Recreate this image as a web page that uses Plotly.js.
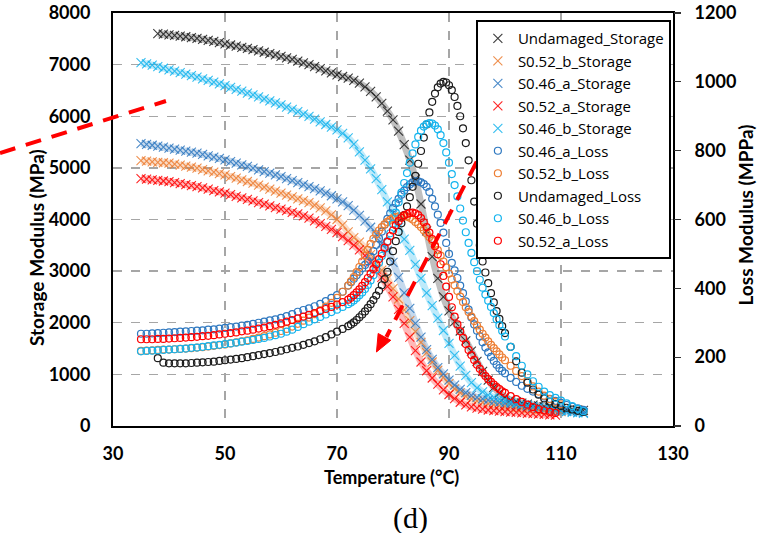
<!DOCTYPE html>
<html>
<head>
<meta charset="utf-8">
<script src="https://cdn.plot.ly/plotly-3.0.1.min.js"></script>
<style>
  html, body { margin: 0; padding: 0; background: #ffffff; }
  #chart { width: 758px; height: 533px; }
</style>
</head>
<body>
<div id="chart"></div>
<script>
// Temperature grid (°C) shared by the storage-modulus series
const tempStorage = [35,36,37,38,39,40,41,42,43,44,45,46,47,48,49,50,51,52,53,54,55,56,57,58,59,60,
  61,62,63,64,65,66,67,68,69,70,71,72,73,74,75,76,77,78,79,80,81,82,83,84,85,86,87,88,89,90,
  91,92,93,94,95,96,97,98,99,100,101,102,103,104,105,106,107,108,109,110,111,112,113,114];

// Temperature grid (°C) shared by the loss-modulus series (finer around the peaks)
const tempLoss = [35,36,37,38,39,40,41,42,43,44,45,46,47,48,49,50,51,52,53,54,55,56,57,58,59,60,
  61,62,63,64,65,66,67,68,69,70,71,
  72,72.5,73,73.5,74,74.5,75,75.5,76,76.5,77,77.5,78,78.5,79,79.5,80,80.5,81,81.5,82,82.5,83,83.5,
  84,84.5,85,85.5,86,86.5,87,87.5,88,88.5,89,89.5,90,90.5,91,91.5,92,92.5,93,93.5,94,94.5,95,95.5,
  96,96.5,97,97.5,98,98.5,99,99.5,100,
  101,102,103,104,105,106,107,108,109,110,111,112,113,114];

// Storage modulus (MPa)
const undamagedStorage = [null,null,null,7600,7590,7575,7565,7550,7540,7525,7510,7490,7470,7450,7425,7400,
  7380,7358,7336,7313,7290,7265,7240,7213,7187,7160,7130,7100,7068,7035,7000,6962,6922,6880,6840,6800,
  6770,6740,6695,6640,6570,6480,6375,6250,6100,5930,5710,5450,5150,4780,4300,3780,3280,2860,2500,2230,
  2020,1840,1650,1450,1250,1060,890,750,640,560,505,470,445,425,405,388,373,360,348,337,327,318,310,302];
const s052bStorage = [5140,5130,5118,5107,5099,5090,5072,5053,5034,5014,4994,4968,4942,4916,4890,4864,
  4832,4800,4768,4736,4703,4665,4626,4588,4549,4510,4474,4437,4400,4364,4328,4280,4225,4165,4090,4000,
  3890,3760,3650,3560,3450,3320,3180,3020,2850,2660,2460,2250,2040,1830,1620,1420,1240,1080,940,820,
  720,640,575,525,485,455,430,410,393,378,365,353,342,332,322,313,304,296,288,280,null,null,null,null];
const s046aStorage = [5470,5455,5438,5420,5400,5381,5362,5343,5324,5305,5285,5260,5234,5208,5182,5155,
  5123,5091,5059,5027,4994,4962,4929,4897,4864,4832,4793,4754,4716,4677,4638,4598,4556,4510,4460,4400,
  4340,4270,4180,4080,3970,3850,3710,3540,3400,3170,2880,2580,2280,1990,1720,1480,1290,1130,1010,890,
  790,710,645,595,555,525,500,478,458,440,424,408,393,378,364,350,337,324,311,299,288,277,267,258];
const s052aStorage = [4790,4780,4768,4757,4746,4735,4716,4697,4677,4658,4638,4612,4587,4561,4536,4510,
  4480,4450,4420,4390,4360,4328,4296,4264,4232,4200,4170,4140,4110,4070,4025,3975,3920,3865,3810,3745,
  3670,3590,3505,3410,3300,3180,3040,2880,2700,2500,2260,1990,1720,1460,1240,1070,930,810,700,610,
  530,460,410,370,345,325,310,298,288,279,270,262,254,246,238,231,224,217,211,null,null,null,null,null];
const s046bStorage = [7040,7015,6990,6960,6930,6900,6872,6843,6815,6786,6757,6725,6693,6660,6628,6595,
  6560,6522,6485,6450,6415,6376,6337,6298,6260,6221,6177,6133,6088,6043,5998,5945,5893,5840,5788,5736,
  5670,5580,5460,5310,5150,4980,4790,4580,4340,4090,3850,3620,3400,3130,2860,2580,2330,2090,1850,1600,
  1370,1160,980,840,740,660,600,555,520,490,465,440,420,400,380,360,342,325,308,292,278,265,253,243];

// Loss modulus (MPa)
const s046aLoss = [268,268,269,270,271,272,273,274,275,276,277,278,280,281,283,285,287,289,292,294,297,
  300,303,307,310,314,319,325,332,337,342,348,355,363,372,380,390,
  408,418,428,438,448,458,468,479,492,508,526,545,565,585,602,618,633,647,660,672,684,694,702,708,
  711,711,708,703,695,680,660,638,614,590,562,532,500,474,452,430,408,386,362,338,315,295,277,260,
  243,228,214,201,189,178,168,160,153,
  140,128,117,108,100,93,86,79,73,67,61,56,51,47];
const s052bLoss = [218,219,220,221,222,222,223,224,225,226,228,229,231,233,235,237,240,243,246,249,253,
  257,261,266,271,276,282,289,297,306,315,325,336,347,358,372,390,
  408,420,433,447,462,478,495,512,529,544,557,568,578,586,593,599,604,607,609,610,610,608,605,600,
  593,586,578,569,559,549,538,525,511,495,478,461,443,426,409,392,376,360,345,331,318,305,292,280,
  268,257,246,236,226,217,208,199,191,
  175,160,145,130,115,100,88,78,70,63,null,null,null,null];
const undamagedLoss = [null,null,null,197,184,182,182,182,182,183,184,185,186,187,189,191,193,195,197,200,
  203,206,209,212,215,219,223,227,231,236,241,246,252,258,266,274,282,
  290,295,301,308,316,324,333,343,354,366,379,393,409,427,448,478,508,537,564,589,613,638,665,695,
  727,762,799,838,876,911,942,966,984,995,1000,998,990,976,956,930,900,865,822,772,714,652,588,525,
  478,446,415,386,359,334,311,290,270,
  230,188,155,126,106,91,80,71,64,58,53,48,44,41];
const s046bLoss = [217,218,219,220,221,222,223,224,225,227,228,230,232,234,236,238,240,242,245,247,250,
  253,256,260,264,268,274,280,288,296,303,310,317,324,331,338,346,
  354,359,365,372,380,388,398,410,423,438,455,474,494,515,537,560,588,620,650,678,706,735,765,792,
  818,840,858,870,877,880,879,873,862,845,822,795,765,732,700,667,632,597,563,532,503,476,450,425,
  402,382,364,346,328,310,293,276,260,
  230,203,175,150,130,114,100,90,82,74,66,58,50,43];
const s052aLoss = [252,252,252,253,253,254,255,256,257,258,259,261,262,264,266,268,270,272,275,277,280,
  283,286,290,294,298,303,308,313,318,323,328,334,340,346,353,360,
  367,373,380,388,397,407,418,430,443,456,470,485,501,518,535,552,568,583,595,605,612,616,619,620,
  618,613,604,592,578,562,543,522,499,470,436,405,375,345,318,295,275,256,238,221,206,192,178,166,
  155,145,136,128,120,113,107,101,96,
  87,78,70,62,55,49,45,41,38,null,null,null,null,null];

// Axis tick values
const xTicks = [30, 50, 70, 90, 110, 130];
const storageTicks = [0, 1000, 2000, 3000, 4000, 5000, 6000, 7000, 8000];
const lossTicks = [0, 200, 400, 600, 800, 1000, 1200];

const COLORS = {
  undamaged: '#1c1c1c',
  s052b: '#ED7D31',
  s046a: '#2E78C0',
  s052a: '#FF0000',
  s046b: '#14B4EE'
};

function rgba(hex, a) {
  const n = parseInt(hex.slice(1), 16);
  return 'rgba(' + ((n >> 16) & 255) + ',' + ((n >> 8) & 255) + ',' + (n & 255) + ',' + a + ')';
}

const storageSeries = [
  { name: 'Undamaged_Storage', y: undamagedStorage, color: COLORS.undamaged },
  { name: 'S0.52_b_Storage', y: s052bStorage, color: COLORS.s052b },
  { name: 'S0.46_a_Storage', y: s046aStorage, color: COLORS.s046a },
  { name: 'S0.52_a_Storage', y: s052aStorage, color: COLORS.s052a },
  { name: 'S0.46_b_Storage', y: s046bStorage, color: COLORS.s046b }
];
const lossSeries = [
  { name: 'S0.46_a_Loss', y: s046aLoss, color: COLORS.s046a },
  { name: 'S0.52_b_Loss', y: s052bLoss, color: COLORS.s052b },
  { name: 'Undamaged_Loss', y: undamagedLoss, color: COLORS.undamaged },
  { name: 'S0.46_b_Loss', y: s046bLoss, color: COLORS.s046b },
  { name: 'S0.52_a_Loss', y: s052aLoss, color: COLORS.s052a }
];

const traces = [];
// soft bands underneath the densely packed "x" markers
storageSeries.forEach(s => traces.push({
  type: 'scatter', mode: 'lines', x: tempStorage, y: s.y, yaxis: 'y',
  showlegend: false, hoverinfo: 'skip', connectgaps: false,
  line: { color: rgba(s.color, 0.28), width: 7, shape: 'spline' }
}));
storageSeries.forEach(s => traces.push({
  type: 'scatter', mode: 'markers', name: s.name, x: tempStorage, y: s.y, yaxis: 'y',
  marker: { symbol: 'x-thin', size: 9, color: s.color, opacity: 0.85,
            line: { width: 1.1, color: s.color } }
}));
lossSeries.forEach(s => traces.push({
  type: 'scatter', mode: 'markers', name: s.name, x: tempLoss, y: s.y, yaxis: 'y2',
  marker: { symbol: 'circle-open', size: 7, color: s.color,
            line: { width: 1.2, color: s.color } }
}));

const FONT = 'Lato, "Open Sans", "DejaVu Sans", sans-serif';
const LEGEND_FONT = '"Open Sans", Lato, sans-serif';
const GRID = '#A6A6A6';

// paper coordinates for the two dashed red guide arrows
const guideDash = '16px,11px';
const shapes = [
  { type: 'line', xref: 'paper', yref: 'paper', x0: -0.2018, y0: 0.661, x1: 0.0946, y1: 0.787,
    line: { color: '#FF0000', width: 4, dash: guideDash }, layer: 'above' },
  { type: 'line', xref: 'paper', yref: 'paper', x0: 0.6495, y0: 0.640, x1: 0.4882, y1: 0.2155,
    line: { color: '#FF0000', width: 4, dash: guideDash }, layer: 'above' },
  { type: 'path', xref: 'paper', yref: 'paper',
    path: 'M 0.4705 0.1792 L 0.4960 0.2075 L 0.4735 0.2240 Z',
    fillcolor: '#FF0000', line: { color: '#FF0000', width: 1 }, layer: 'above' }
];

const annotations = [
  { text: 'Storage Modulus (MPa)', xref: 'paper', yref: 'paper', x: -0.1357, y: 0.431,
    textangle: -90, showarrow: false, xanchor: 'center', yanchor: 'middle',
    font: { family: FONT, size: 19, color: '#000', weight: 'bold' } },
  { text: 'Loss Modulus (MPPa)', xref: 'paper', yref: 'paper', x: 1.1286, y: 0.5097,
    textangle: -90, showarrow: false, xanchor: 'center', yanchor: 'middle', borderpad: 0,
    font: { family: FONT, size: 19, color: '#000', weight: 'bold' } },
  { text: 'Temperature (°C)', xref: 'paper', yref: 'paper', x: 0.498, y: -0.123,
    showarrow: false, xanchor: 'center', yanchor: 'middle',
    font: { family: FONT, size: 18, color: '#000', weight: 'bold' } },
  { text: '(d)', xref: 'paper', yref: 'paper', x: 0.532, y: -0.2228,
    showarrow: false, xanchor: 'center', yanchor: 'middle',
    font: { family: '"Liberation Serif", "Times New Roman", serif', size: 30, color: '#000' } }
];

const layout = {
  width: 758, height: 533,
  margin: { l: 113, r: 85, t: 13, b: 107, pad: 0 },
  paper_bgcolor: '#ffffff', plot_bgcolor: '#ffffff',
  showlegend: true,
  legend: {
    x: 0.648, y: 0.983, xanchor: 'left', yanchor: 'top',
    bgcolor: '#ffffff', bordercolor: '#000000', borderwidth: 2,
    font: { family: LEGEND_FONT, size: 15, color: '#000' },
    tracegroupgap: 0, itemsizing: 'trace'
  },
  xaxis: {
    range: [30, 130], tickmode: 'array', tickvals: xTicks, ticktext: xTicks.map(String),
    showgrid: true, gridcolor: GRID, gridwidth: 1.3, griddash: 'dash',
    showline: true, linecolor: '#000', linewidth: 2, mirror: true,
    ticks: '', zeroline: false, ticklabelstandoff: 10,
    tickfont: { family: FONT, size: 18, color: '#000', weight: 'bold' }
  },
  yaxis: {
    range: [0, 8000], tickmode: 'array', tickvals: storageTicks, ticktext: storageTicks.map(String),
    showgrid: true, gridcolor: GRID, gridwidth: 1.3, griddash: 'dash',
    showline: true, linecolor: '#000', linewidth: 2, mirror: true,
    ticks: '', zeroline: false, ticklabelstandoff: 17,
    tickfont: { family: FONT, size: 18, color: '#000', weight: 'bold' }
  },
  yaxis2: {
    range: [0, 1200], tickmode: 'array', tickvals: lossTicks, ticktext: lossTicks.map(String),
    overlaying: 'y', side: 'right', showgrid: false, zeroline: false,
    showline: false, ticks: 'outside', ticklen: 7, tickwidth: 1.3, tickcolor: '#333',
    ticklabelstandoff: 10,
    tickfont: { family: FONT, size: 18, color: '#000', weight: 'bold' }
  },
  shapes: shapes,
  annotations: annotations
};

Plotly.newPlot('chart', traces, layout, { staticPlot: true, displayModeBar: false });
</script>
</body>
</html>
